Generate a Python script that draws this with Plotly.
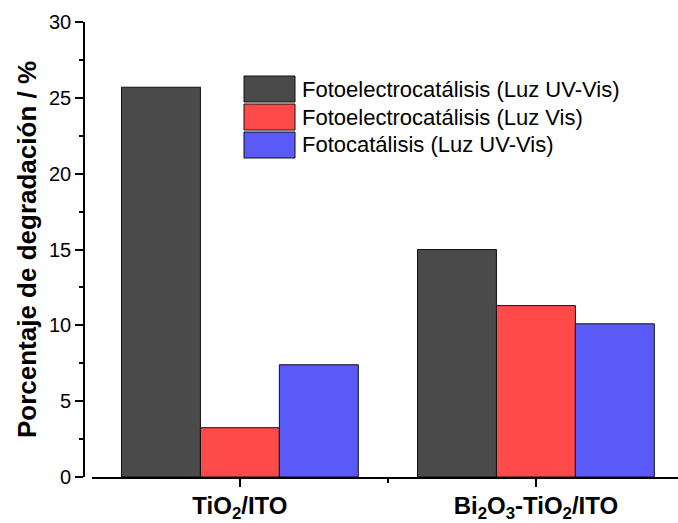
import plotly.graph_objects as go

categories = [0, 1]
category_labels = ["<b>TiO<sub>2</sub>/ITO</b>", "<b>Bi<sub>2</sub>O<sub>3</sub>-TiO<sub>2</sub>/ITO</b>"]
series_names = [
    "Fotoelectrocatálisis (Luz UV-Vis)",
    "Fotoelectrocatálisis (Luz Vis)",
    "Fotocatálisis (Luz UV-Vis)",
]
pec_uvvis = [25.7, 15.0]
pec_vis = [3.25, 11.3]
pc_uvvis = [7.4, 10.1]
series_values = [pec_uvvis, pec_vis, pc_uvvis]
colors = ["#4a4a4a", "#ff4a4a", "#5a5af8"]
y_ticks = [0, 5, 10, 15, 20, 25, 30]

fig = go.Figure()
for name, vals, col in zip(series_names, series_values, colors):
    fig.add_trace(go.Bar(
        x=categories, y=vals, name=name,
        marker=dict(color=col, line=dict(color="#111111", width=1)),
        showlegend=False,
    ))

FONT = "Liberation Sans, Arial, sans-serif"
W, H = 678, 523
ML, MR, MT, MB = 70, 0, 22, 46
fig.update_layout(
    width=W, height=H,
    margin=dict(l=ML, r=MR, t=MT, b=MB),
    paper_bgcolor="white", plot_bgcolor="white",
    barmode="group", bargap=0.2, bargroupgap=0,
    font=dict(family=FONT, color="black"),
    xaxis=dict(
        domain=[0.036, 1],
        range=[-0.5, 1.48],
        tickmode="array", tickvals=categories, ticktext=category_labels,
        tickfont=dict(size=24, family=FONT, color="black"),
        showline=True, linecolor="black", linewidth=1.5,
        ticks="outside", ticklen=8, tickwidth=1.5, tickcolor="black",
        ticklabelstandoff=-2,
        minor=dict(tickmode="array", tickvals=[0.5], ticks="outside", ticklen=4,
                   tickwidth=1.5, tickcolor="black"),
        showgrid=False, zeroline=False,
        fixedrange=True,
    ),
    yaxis=dict(
        anchor="free", position=0.023,
        range=[0, 30],
        tickmode="array", tickvals=y_ticks,
        tickfont=dict(size=20, family=FONT, color="black"),
        showline=True, linecolor="black", linewidth=1.5,
        ticks="outside", ticklen=8, tickwidth=1.5, tickcolor="black",
        minor=dict(dtick=2.5, ticks="outside", ticklen=4, tickwidth=1.5, tickcolor="black"),
        showgrid=False, zeroline=False,
        fixedrange=True,
        title=dict(text="<b>Porcentaje de degradación / %</b>",
                   font=dict(size=26, family=FONT, color="black"), standoff=4),
    ),
)

# custom legend (large swatches like the reference)
leg_x0, leg_w = 244, 51
row_top = [76, 104, 132]
row_h = 26
pw, ph = W - ML - MR, H - MT - MB
for name, col, yt in zip(series_names, colors, row_top):
    fig.add_shape(type="rect", xref="paper", yref="paper",
                  x0=(leg_x0 - ML) / pw, x1=(leg_x0 + leg_w - ML) / pw,
                  y0=1 - (yt - MT) / ph, y1=1 - (yt + row_h - MT) / ph,
                  fillcolor=col, line=dict(color="#111111", width=1))
    fig.add_annotation(xref="paper", yref="paper",
                       x=(leg_x0 + leg_w + 5 - ML) / pw,
                       y=1 - (yt + row_h / 2 - MT) / ph,
                       text=name, showarrow=False, xanchor="left", yanchor="middle",
                       font=dict(size=22, family=FONT, color="black"))

fig.write_html("out.html", config={"displayModeBar": False},
               post_script="document.body.style.margin='0px';")
